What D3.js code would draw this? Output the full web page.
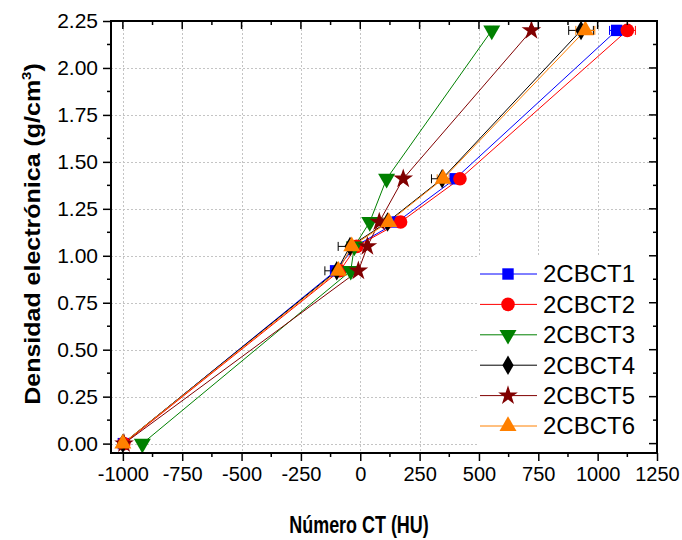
<!DOCTYPE html>
<html>
<head>
<meta charset="utf-8">
<script src="https://cdn.jsdelivr.net/npm/d3@7"></script>
<style>
  html, body { margin: 0; padding: 0; background: #fff; }
  svg { display: block; font-family: "Liberation Sans", Arial, sans-serif; }
</style>
</head>
<body>
<svg id="chart" width="682" height="540"></svg>
<script>
// Electron density of the phantom inserts (g/cm3)
const densities = [0.00, 0.92, 1.05, 1.18, 1.41, 2.20];

// Mean CT number (HU) of each insert for every CBCT acquisition
const seriesNames = ["2CBCT1", "2CBCT2", "2CBCT3", "2CBCT4", "2CBCT5", "2CBCT6"];
const ct2CBCT1 = [-998, -104, -22, 155, 400, 1080];
const ct2CBCT2 = [-996, -86, -15, 170, 420, 1125];
const ct2CBCT3 = [-918, -40, -25, 40, 111, 554];
const ct2CBCT4 = [-1000, -99, -43, 115, 345, 930];
const ct2CBCT5 = [-995, -8, 30, 80, 181, 721];
const ct2CBCT6 = [-1000, -92, -36, 120, 349, 948];

// Standard deviation (HU) drawn as horizontal error bars
const sd2CBCT1 = [15, 20, 15, 15, 15, 30];
const sd2CBCT2 = [20, 15, 15, 15, 15, 34];
const sd2CBCT3 = [8, 8, 8, 8, 8, 8];
const sd2CBCT4 = [15, 50, 50, 20, 45, 52];
const sd2CBCT5 = [8, 8, 8, 8, 8, 8];
const sd2CBCT6 = [15, 20, 20, 20, 25, 40];

const xTicks = [-1000, -750, -500, -250, 0, 250, 500, 750, 1000, 1250];
const yTicks = [0.00, 0.25, 0.50, 0.75, 1.00, 1.25, 1.50, 1.75, 2.00, 2.25];

const seriesColors = ["#0000ff", "#ff0000", "#008000", "#000000", "#800000", "#ff8000"];
const seriesSymbols = ["square", "circle", "triangleDown", "diamond", "star", "triangle"];

const series = seriesNames.map((name, i) => ({
  name,
  color: seriesColors[i],
  symbol: seriesSymbols[i],
  x: [ct2CBCT1, ct2CBCT2, ct2CBCT3, ct2CBCT4, ct2CBCT5, ct2CBCT6][i],
  sd: [sd2CBCT1, sd2CBCT2, sd2CBCT3, sd2CBCT4, sd2CBCT5, sd2CBCT6][i]
}));

const svg = d3.select("#chart");
const plotL = 111, plotR = 657, plotT = 21, plotB = 453;

const x = d3.scaleLinear().domain([-1050, 1250]).range([plotL, plotR]);
const y = d3.scaleLinear().domain([-0.05, 2.25]).range([plotB, plotT]);

// Dotted grid
const grid = svg.append("g").attr("stroke", "#c4c4c4").attr("stroke-width", 1)
  .attr("stroke-dasharray", "2,2");
xTicks.filter(t => t < 1250).forEach(t => {
  grid.append("line").attr("x1", Math.round(x(t)) + 0.5).attr("x2", Math.round(x(t)) + 0.5)
    .attr("y1", plotT).attr("y2", plotB);
});
yTicks.filter(t => t < 2.25).forEach(t => {
  grid.append("line").attr("y1", Math.round(y(t)) + 0.5).attr("y2", Math.round(y(t)) + 0.5)
    .attr("x1", plotL).attr("x2", plotR);
});

// Symbol shapes
function symbolPath(kind) {
  switch (kind) {
    case "square": return d3.symbol(d3.symbolSquare, 130)();
    case "circle": return d3.symbol(d3.symbolCircle, 145)();
    case "diamond": return d3.symbol(d3.symbolDiamond, 110)();
    case "star": return d3.symbol(d3.symbolStar, 120)();
    case "triangle": return d3.symbol(d3.symbolTriangle, 125)();
    case "triangleDown": return d3.symbol(d3.symbolTriangle, 125)();
  }
}
function symbolRotation(kind) { return kind === "triangleDown" ? 180 : 0; }

const line = d3.line().x(d => x(d[0])).y(d => y(d[1]));

// Lines
series.forEach(s => {
  const pts = s.x.map((v, j) => [v, densities[j]]);
  svg.append("path").attr("d", line(pts)).attr("fill", "none")
    .attr("stroke", s.color).attr("stroke-width", 1);
});

// Error bars
series.forEach(s => {
  const g = svg.append("g").attr("stroke", s.color).attr("stroke-width", 1);
  s.x.forEach((v, j) => {
    const yy = y(densities[j]);
    const x0 = x(v - s.sd[j]), x1 = x(v + s.sd[j]);
    g.append("line").attr("x1", x0).attr("x2", x1).attr("y1", yy).attr("y2", yy);
    g.append("line").attr("x1", x0).attr("x2", x0).attr("y1", yy - 4.5).attr("y2", yy + 4.5);
    g.append("line").attr("x1", x1).attr("x2", x1).attr("y1", yy - 4.5).attr("y2", yy + 4.5);
  });
});

// Markers
series.forEach(s => {
  svg.append("g").selectAll("path").data(s.x).join("path")
    .attr("d", symbolPath(s.symbol))
    .attr("transform", (v, j) => `translate(${x(v)},${y(densities[j])}) rotate(${symbolRotation(s.symbol)})`)
    .attr("fill", s.color);
});

// Legend
const lg = svg.append("g");
lg.append("rect").attr("x", 478).attr("y", 256).attr("width", 178).attr("height", 196).attr("fill", "#fff");
series.forEach((s, i) => {
  const yy = 274 + i * 30.4;
  lg.append("line").attr("x1", 480).attr("x2", 537).attr("y1", yy).attr("y2", yy)
    .attr("stroke", s.color).attr("stroke-width", 1);
  lg.append("path").attr("d", symbolPath(s.symbol))
    .attr("transform", `translate(508,${yy}) rotate(${symbolRotation(s.symbol)})`)
    .attr("fill", s.color);
  lg.append("text").attr("x", 543).attr("y", yy).attr("dy", "0.35em")
    .attr("font-size", 24).attr("fill", "#000").text(s.name);
});

// Axes (plain hyphen for negative numbers)
const axisBottom = d3.axisBottom(x).tickValues(xTicks).tickFormat(d => String(d))
  .tickSize(8).tickPadding(6);
const axisLeft = d3.axisLeft(y).tickValues(yTicks).tickFormat(d => d.toFixed(2))
  .tickSize(8).tickPadding(5);

function styleAxis(size) {
  return g => {
    g.select(".domain").remove();
    g.selectAll(".tick line").attr("stroke", "#000").attr("stroke-width", 1.5);
    g.selectAll(".tick text").attr("font-size", size).attr("fill", "#000")
      .attr("font-family", "'Liberation Sans', Arial, sans-serif");
  };
}

svg.append("g").attr("transform", `translate(0,${plotB})`).call(axisBottom).call(styleAxis(20));
svg.append("g").attr("transform", `translate(${plotL},0)`).call(axisLeft).call(styleAxis(21));

// Minor ticks
const minorX = d3.range(-875, 1250, 250);
const minorY = d3.range(0.125, 2.25, 0.25);
const minor = svg.append("g").attr("stroke", "#000").attr("stroke-width", 1.5);
minorX.forEach(t => {
  minor.append("line").attr("x1", x(t)).attr("x2", x(t)).attr("y1", plotB).attr("y2", plotB + 4);
  minor.append("line").attr("x1", x(t)).attr("x2", x(t)).attr("y1", plotT).attr("y2", plotT + 4);
});
minorY.forEach(t => {
  minor.append("line").attr("y1", y(t)).attr("y2", y(t)).attr("x1", plotL).attr("x2", plotL - 4);
  minor.append("line").attr("y1", y(t)).attr("y2", y(t)).attr("x1", plotR).attr("x2", plotR - 4);
});
// Major ticks on the top and right edges, pointing inward
xTicks.forEach(t => {
  minor.append("line").attr("x1", x(t)).attr("x2", x(t)).attr("y1", plotT).attr("y2", plotT + 8);
});
yTicks.forEach(t => {
  minor.append("line").attr("y1", y(t)).attr("y2", y(t)).attr("x1", plotR).attr("x2", plotR - 8);
});

// Frame
svg.append("rect").attr("x", plotL).attr("y", plotT).attr("width", plotR - plotL).attr("height", plotB - plotT)
  .attr("fill", "none").attr("stroke", "#000").attr("stroke-width", 2);

// Axis titles
svg.append("text").attr("transform", "translate(359,533) scale(0.78,1)")
  .attr("text-anchor", "middle").attr("font-weight", "bold").attr("font-size", 23)
  .text("Número CT (HU)");

const yTitle = svg.append("text").attr("transform", "translate(40,234) rotate(-90) scale(1,0.9)")
  .attr("text-anchor", "middle").attr("font-weight", "bold").attr("font-size", 25);
yTitle.append("tspan").text("Densidad electrónica (g/cm");
yTitle.append("tspan").attr("font-size", 15).attr("dy", -10).text("3");
yTitle.append("tspan").attr("dy", 10).text(")");
</script>
</body>
</html>
